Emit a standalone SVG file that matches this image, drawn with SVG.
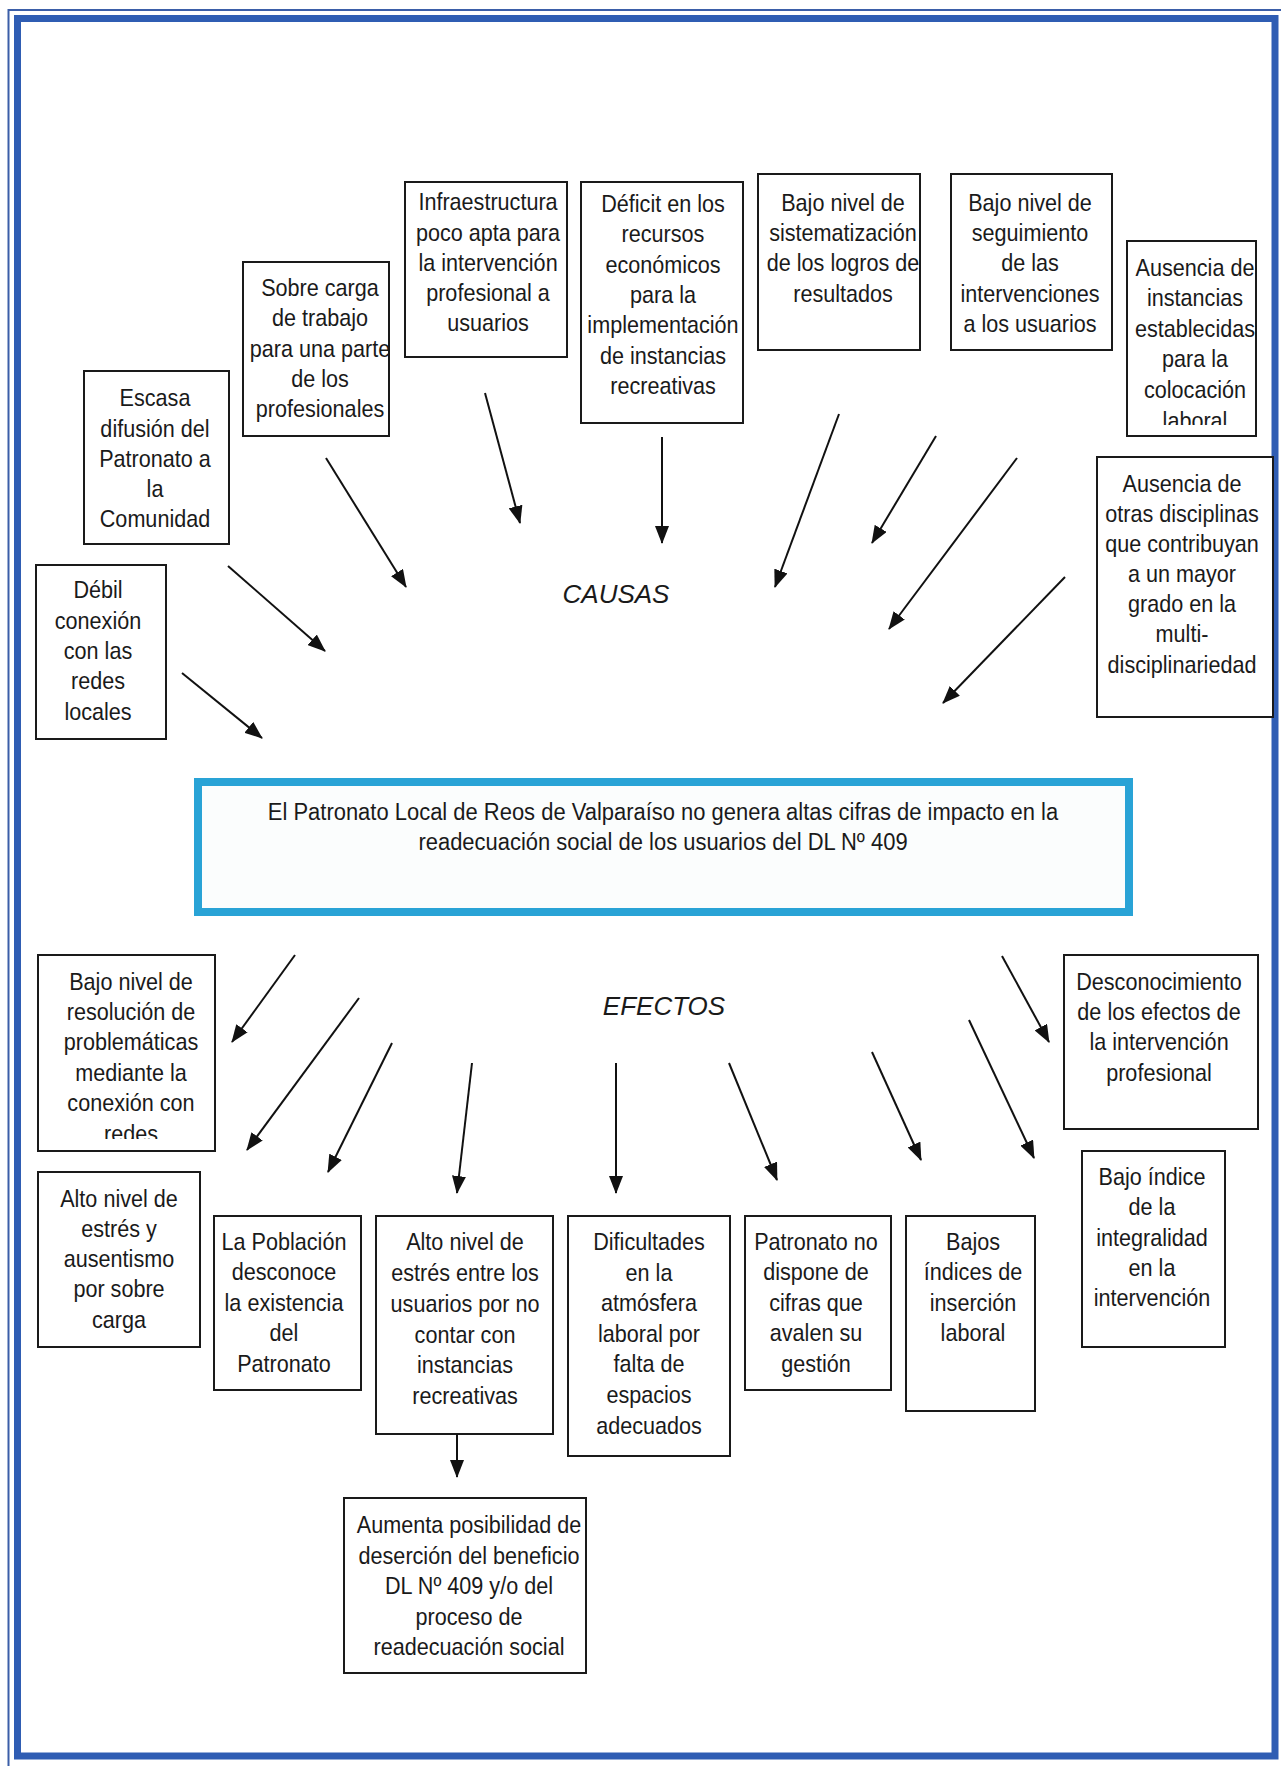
<svg xmlns="http://www.w3.org/2000/svg" width="1281" height="1766" viewBox="0 0 1281 1766">
<style>
.box{fill:#fff;stroke:#1a1a1a;stroke-width:2}
.t{font-family:"Liberation Sans",Arial,sans-serif;font-size:24px;text-anchor:middle;fill:#1a1a1a}
.lbl{font-family:"Liberation Sans",Arial,sans-serif;font-size:26px;font-style:italic;text-anchor:middle;fill:#1a1a1a}
.conn line{stroke:#111;stroke-width:2;marker-end:url(#ah)}
</style>
<defs>
<marker id="ah" markerUnits="userSpaceOnUse" markerWidth="18" markerHeight="14" viewBox="0 0 18 14" refX="17" refY="7" orient="auto">
<path d="M0,0 L18,7 L0,14 z" fill="#111"/>
</marker>
<clipPath id="cSobre"><rect x="244" y="262" width="144" height="174"/></clipPath>
<clipPath id="cSist"><rect x="759" y="175" width="160" height="174"/></clipPath>
<clipPath id="cAusInst"><rect x="1128" y="242" width="127" height="183"/></clipPath>
<clipPath id="cResol"><rect x="39" y="956" width="175" height="183"/></clipPath>
<clipPath id="cAum"><rect x="345" y="1499" width="240" height="173"/></clipPath>
</defs>
<rect x="0" y="0" width="1281" height="1766" fill="#fff"/>
<g id="frame">
<rect x="8.5" y="10" width="1282" height="1760" fill="none" stroke="#3b5ea8" stroke-width="2"/>
<rect x="17.5" y="18.5" width="1257.5" height="1737.5" fill="none" stroke="#2f5db3" stroke-width="7"/>
</g>

<g id="c_escasa">
<rect class="box" x="84" y="371" width="145" height="173"/>
<g transform="translate(155 0) scale(0.9 1)"><text class="t"><tspan x="0" y="406">Escasa</tspan><tspan x="0" y="437">difusión del</tspan><tspan x="0" y="467">Patronato a</tspan><tspan x="0" y="497">la</tspan><tspan x="0" y="527">Comunidad</tspan></text></g>
</g>
<g id="c_sobrecarga">
<rect class="box" x="243" y="262" width="146" height="174"/>
<g clip-path="url(#cSobre)"><g transform="translate(320 0) scale(0.9 1)"><text class="t"><tspan x="0" y="296">Sobre carga</tspan><tspan x="0" y="326">de trabajo</tspan><tspan x="0" y="357">para una parte</tspan><tspan x="0" y="387">de los</tspan><tspan x="0" y="417">profesionales</tspan></text></g></g>
</g>
<g id="c_infra">
<rect class="box" x="405" y="182" width="162" height="175"/>
<g transform="translate(488 0) scale(0.9 1)"><text class="t"><tspan x="0" y="210">Infraestructura</tspan><tspan x="0" y="241">poco apta para</tspan><tspan x="0" y="271">la intervención</tspan><tspan x="0" y="301">profesional a</tspan><tspan x="0" y="331">usuarios</tspan></text></g>
</g>
<g id="c_deficit">
<rect class="box" x="581" y="182" width="162" height="241"/>
<g transform="translate(663 0) scale(0.9 1)"><text class="t"><tspan x="0" y="212">Déficit en los</tspan><tspan x="0" y="242">recursos</tspan><tspan x="0" y="273">económicos</tspan><tspan x="0" y="303">para la</tspan><tspan x="0" y="333">implementación</tspan><tspan x="0" y="364">de instancias</tspan><tspan x="0" y="394">recreativas</tspan></text></g>
</g>
<g id="c_sistematizacion">
<rect class="box" x="758" y="174" width="162" height="176"/>
<g clip-path="url(#cSist)"><g transform="translate(843 0) scale(0.9 1)"><text class="t"><tspan x="0" y="211">Bajo nivel de</tspan><tspan x="0" y="241">sistematización</tspan><tspan x="0" y="271">de los logros de</tspan><tspan x="0" y="302">resultados</tspan></text></g></g>
</g>
<g id="c_seguimiento">
<rect class="box" x="951" y="174" width="161" height="176"/>
<g transform="translate(1030 0) scale(0.9 1)"><text class="t"><tspan x="0" y="211">Bajo nivel de</tspan><tspan x="0" y="241">seguimiento</tspan><tspan x="0" y="271">de las</tspan><tspan x="0" y="302">intervenciones</tspan><tspan x="0" y="332">a los usuarios</tspan></text></g>
</g>
<g id="c_ausencia_inst">
<rect class="box" x="1127" y="241" width="129" height="195"/>
<g clip-path="url(#cAusInst)"><g transform="translate(1195 0) scale(0.9 1)"><text class="t"><tspan x="0" y="276">Ausencia de</tspan><tspan x="0" y="306">instancias</tspan><tspan x="0" y="337">establecidas</tspan><tspan x="0" y="367">para la</tspan><tspan x="0" y="398">colocación</tspan><tspan x="0" y="429">laboral</tspan></text></g></g>
</g>
<g id="c_ausencia_otras">
<rect class="box" x="1097" y="457" width="176" height="260"/>
<g transform="translate(1182 0) scale(0.9 1)"><text class="t"><tspan x="0" y="492">Ausencia de</tspan><tspan x="0" y="522">otras disciplinas</tspan><tspan x="0" y="552">que contribuyan</tspan><tspan x="0" y="582">a un mayor</tspan><tspan x="0" y="612">grado en la</tspan><tspan x="0" y="642">multi-</tspan><tspan x="0" y="673">disciplinariedad</tspan></text></g>
</g>
<g id="c_debil">
<rect class="box" x="36" y="565" width="130" height="174"/>
<g transform="translate(98 0) scale(0.9 1)"><text class="t"><tspan x="0" y="598">Débil</tspan><tspan x="0" y="629">conexión</tspan><tspan x="0" y="659">con las</tspan><tspan x="0" y="689">redes</tspan><tspan x="0" y="720">locales</tspan></text></g>
</g>

<g id="lbl_causas"><text class="lbl" x="616" y="603">CAUSAS</text></g>

<g id="problema">
<rect x="198" y="782" width="931" height="130" fill="#fbfdfd" stroke="#29a3d6" stroke-width="8"/>
<g transform="translate(663 0) scale(0.9 1)"><text class="t" style="font-size:24.4px"><tspan x="0" y="820">El Patronato Local de Reos de Valparaíso no genera altas cifras de impacto en la</tspan><tspan x="0" y="850">readecuación social de los usuarios del DL Nº 409</tspan></text></g>
</g>

<g id="lbl_efectos"><text class="lbl" x="664" y="1015">EFECTOS</text></g>

<g id="e_resolucion">
<rect class="box" x="38" y="955" width="177" height="196"/>
<g clip-path="url(#cResol)"><g transform="translate(131 0) scale(0.9 1)"><text class="t"><tspan x="0" y="990">Bajo nivel de</tspan><tspan x="0" y="1020">resolución de</tspan><tspan x="0" y="1050">problemáticas</tspan><tspan x="0" y="1081">mediante la</tspan><tspan x="0" y="1111">conexión con</tspan><tspan x="0" y="1142">redes</tspan></text></g></g>
</g>
<g id="e_estres_ausentismo">
<rect class="box" x="38" y="1172" width="162" height="175"/>
<g transform="translate(119 0) scale(0.9 1)"><text class="t"><tspan x="0" y="1207">Alto nivel de</tspan><tspan x="0" y="1237">estrés y</tspan><tspan x="0" y="1267">ausentismo</tspan><tspan x="0" y="1297">por sobre</tspan><tspan x="0" y="1328">carga</tspan></text></g>
</g>
<g id="e_poblacion">
<rect class="box" x="214" y="1216" width="147" height="174"/>
<g transform="translate(284 0) scale(0.9 1)"><text class="t"><tspan x="0" y="1250">La Población</tspan><tspan x="0" y="1280">desconoce</tspan><tspan x="0" y="1311">la existencia</tspan><tspan x="0" y="1341">del</tspan><tspan x="0" y="1372">Patronato</tspan></text></g>
</g>
<g id="e_estres_usuarios">
<rect class="box" x="376" y="1216" width="177" height="218"/>
<g transform="translate(465 0) scale(0.9 1)"><text class="t"><tspan x="0" y="1250">Alto nivel de</tspan><tspan x="0" y="1281">estrés entre los</tspan><tspan x="0" y="1312">usuarios por no</tspan><tspan x="0" y="1343">contar con</tspan><tspan x="0" y="1373">instancias</tspan><tspan x="0" y="1404">recreativas</tspan></text></g>
</g>
<g id="e_dificultades">
<rect class="box" x="568" y="1216" width="162" height="240"/>
<g transform="translate(649 0) scale(0.9 1)"><text class="t"><tspan x="0" y="1250">Dificultades</tspan><tspan x="0" y="1281">en la</tspan><tspan x="0" y="1311">atmósfera</tspan><tspan x="0" y="1342">laboral por</tspan><tspan x="0" y="1372">falta de</tspan><tspan x="0" y="1403">espacios</tspan><tspan x="0" y="1434">adecuados</tspan></text></g>
</g>
<g id="e_cifras">
<rect class="box" x="745" y="1216" width="146" height="174"/>
<g transform="translate(816 0) scale(0.9 1)"><text class="t"><tspan x="0" y="1250">Patronato no</tspan><tspan x="0" y="1280">dispone de</tspan><tspan x="0" y="1311">cifras que</tspan><tspan x="0" y="1341">avalen su</tspan><tspan x="0" y="1372">gestión</tspan></text></g>
</g>
<g id="e_insercion">
<rect class="box" x="906" y="1216" width="129" height="195"/>
<g transform="translate(973 0) scale(0.9 1)"><text class="t"><tspan x="0" y="1250">Bajos</tspan><tspan x="0" y="1280">índices de</tspan><tspan x="0" y="1311">inserción</tspan><tspan x="0" y="1341">laboral</tspan></text></g>
</g>
<g id="e_integralidad">
<rect class="box" x="1082" y="1151" width="143" height="196"/>
<g transform="translate(1152 0) scale(0.9 1)"><text class="t"><tspan x="0" y="1185">Bajo índice</tspan><tspan x="0" y="1215">de la</tspan><tspan x="0" y="1246">integralidad</tspan><tspan x="0" y="1276">en la</tspan><tspan x="0" y="1306">intervención</tspan></text></g>
</g>
<g id="e_desconocimiento">
<rect class="box" x="1064" y="955" width="194" height="174"/>
<g transform="translate(1159 0) scale(0.9 1)"><text class="t"><tspan x="0" y="990">Desconocimiento</tspan><tspan x="0" y="1020">de los efectos de</tspan><tspan x="0" y="1050">la intervención</tspan><tspan x="0" y="1081">profesional</tspan></text></g>
</g>
<g id="e_desercion">
<rect class="box" x="344" y="1498" width="242" height="175"/>
<g clip-path="url(#cAum)"><g transform="translate(469 0) scale(0.9 1)"><text class="t"><tspan x="0" y="1533">Aumenta posibilidad de</tspan><tspan x="0" y="1564">deserción del beneficio</tspan><tspan x="0" y="1594">DL Nº 409 y/o del</tspan><tspan x="0" y="1625">proceso de</tspan><tspan x="0" y="1655">readecuación social</tspan></text></g></g>
</g>

<g id="connectors" class="conn">
<line x1="182" y1="673" x2="262" y2="738"/>
<line x1="228" y1="566" x2="325" y2="651"/>
<line x1="326" y1="458" x2="406" y2="587"/>
<line x1="485" y1="393" x2="520" y2="523"/>
<line x1="662" y1="437" x2="662" y2="543"/>
<line x1="839" y1="414" x2="775" y2="587"/>
<line x1="936" y1="436" x2="872" y2="543"/>
<line x1="1017" y1="458" x2="889" y2="629"/>
<line x1="1065" y1="577" x2="943" y2="703"/>
<line x1="295" y1="955" x2="232" y2="1042"/>
<line x1="359" y1="998" x2="247" y2="1150"/>
<line x1="392" y1="1043" x2="328" y2="1172"/>
<line x1="472" y1="1063" x2="457" y2="1193"/>
<line x1="616" y1="1063" x2="616" y2="1193"/>
<line x1="729" y1="1063" x2="777" y2="1180"/>
<line x1="872" y1="1052" x2="921" y2="1160"/>
<line x1="969" y1="1020" x2="1034" y2="1158"/>
<line x1="1002" y1="956" x2="1049" y2="1042"/>
<line x1="457" y1="1434" x2="457" y2="1477"/>
</g>
</svg>
